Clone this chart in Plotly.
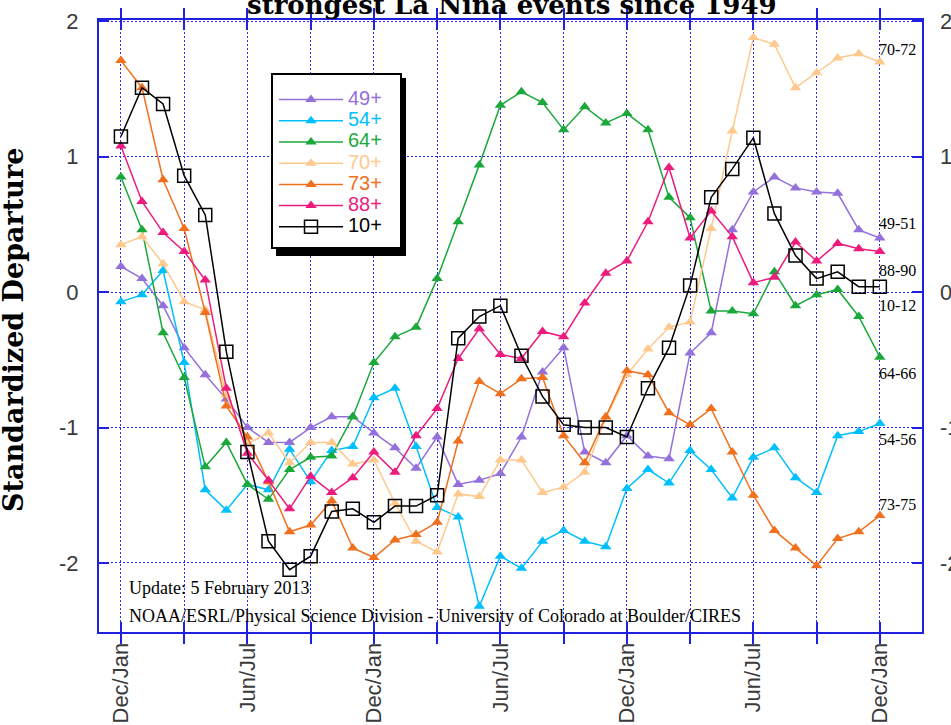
import plotly.graph_objects as go

# ---- data ----
months = list(range(37))
tick_pos = list(range(0, 37, 3))
tick_text = ["Dec/Jan" if (p % 12 == 0) else ("Jun/Jul" if p % 12 == 6 else "") for p in tick_pos]

series_names = ["49+", "54+", "64+", "70+", "73+", "88+", "10+"]
end_labels = ["49-51", "54-56", "64-66", "70-72", "73-75", "88-90", "10-12"]
end_label_y = [0.51, -1.09, -0.60, 1.79, -1.57, 0.16, -0.10]

s49 = [0.19, 0.10, -0.10, -0.41, -0.61, -0.79, -1.00, -1.11, -1.11, -1.00, -0.92, -0.92, -1.04,
       -1.15, -1.30, -1.07, -1.42, -1.39, -1.34, -1.07, -0.59, -0.41, -1.18, -1.26, -1.06, -1.21,
       -1.23, -0.45, -0.30, 0.46, 0.74, 0.85, 0.77, 0.74, 0.73, 0.46, 0.40]
s54 = [-0.07, -0.02, 0.16, -0.52, -1.46, -1.61, -1.42, -1.46, -1.16, -1.40, -1.17, -1.14, -0.78,
       -0.71, -1.14, -1.59, -1.66, -2.32, -1.95, -2.04, -1.84, -1.76, -1.84, -1.88, -1.45, -1.31,
       -1.41, -1.17, -1.31, -1.52, -1.22, -1.15, -1.37, -1.48, -1.06, -1.03, -0.97]
s64 = [0.85, 0.46, -0.30, -0.63, -1.29, -1.11, -1.42, -1.53, -1.31, -1.22, -1.21, -0.92, -0.52,
       -0.33, -0.26, 0.10, 0.52, 0.94, 1.38, 1.48, 1.40, 1.20, 1.37, 1.25, 1.32, 1.20, 0.70,
       0.55, -0.14, -0.14, -0.16, 0.15, -0.10, -0.02, 0.02, -0.18, -0.48]
s70 = [0.35, 0.41, 0.21, -0.07, -0.13, -0.76, -1.12, -1.04, -1.26, -1.11, -1.11, -1.27, -1.24,
       -1.56, -1.84, -1.92, -1.49, -1.51, -1.24, -1.24, -1.48, -1.44, -1.33, -0.93, -0.61, -0.42,
       -0.26, -0.22, 0.47, 1.19, 1.88, 1.83, 1.51, 1.62, 1.73, 1.76, 1.70]
s73 = [1.71, 1.51, 0.83, 0.47, -0.15, -0.84, -1.07, -1.40, -1.77, -1.72, -1.54, -1.89, -1.96,
       -1.83, -1.79, -1.70, -1.10, -0.66, -0.75, -0.64, -0.63, -1.06, -1.26, -0.92, -0.58, -0.61,
       -0.89, -0.98, -0.86, -1.18, -1.50, -1.76, -1.89, -2.02, -1.82, -1.77, -1.65]
s88 = [1.08, 0.67, 0.44, 0.30, 0.09, -0.71, -1.19, -1.39, -1.60, -1.36, -1.48, -1.37, -1.18,
       -1.33, -1.06, -0.86, -0.49, -0.27, -0.46, -0.49, -0.29, -0.33, -0.08, 0.14, 0.23, 0.52,
       0.92, 0.40, 0.60, 0.41, 0.07, 0.11, 0.37, 0.23, 0.36, 0.32, 0.30]
s10 = [1.15, 1.51, 1.39, 0.86, 0.57, -0.44, -1.18, -1.84, -2.05, -1.95, -1.62, -1.60, -1.70,
       -1.58, -1.58, -1.50, -0.34, -0.18, -0.10, -0.47, -0.77, -0.98, -1.00, -1.00, -1.07, -0.71,
       -0.41, 0.05, 0.70, 0.91, 1.14, 0.58, 0.27, 0.10, 0.15, 0.04, 0.04]

y_ticks = [-2, -1, 0, 1, 2]
y_tick_text = ["-2", "-1", "0", "1", "2"]

# ---- styles ----
colors = ["#9370DB", "#00BFFF", "#1BA83B", "#FFC98E", "#F0701E", "#EC1B7D", "#000000"]
all_series = [s49, s54, s64, s70, s73, s88, s10]
AXIS_BLUE = "#2020E0"
GRID_BLUE = "#2828FF"
TICK_GRAY = "#3a3a3a"
SERIF = "Liberation Serif, Times New Roman, serif"
WIDE_SERIF = "DejaVu Serif, serif"
SANS = "Liberation Sans, Arial, sans-serif"

fig = go.Figure()
for name, ys, col in zip(series_names, all_series, colors):
    if name == "10+":
        marker = dict(symbol="square-open", size=13, color=col, line=dict(width=1.5, color=col))
    else:
        marker = dict(symbol="triangle-up", size=10, color=col)
    fig.add_trace(go.Scatter(
        x=months, y=ys, mode="lines+markers",
        name=f"<span style='color:{col};font-size:20px'>{name}</span>",
        line=dict(color=col, width=1.5), marker=marker,
    ))

# invisible trace to carry the right-hand axis labels
fig.add_trace(go.Scatter(x=[months[0]], y=[y_ticks[0]], yaxis="y2", mode="markers",
                         marker=dict(opacity=0), showlegend=False, hoverinfo="skip"))


def px_to_paper_x(px):
    return (px - 99) / 823.0


def px_to_paper_y(py):
    return 1 - (py - 20) / 612.0


fig.update_layout(
    width=951, height=725,
    margin=dict(l=99, r=29, t=20, b=93, autoexpand=False),
    paper_bgcolor="white", plot_bgcolor="white",
    showlegend=True,
    legend=dict(
        x=px_to_paper_x(274), y=px_to_paper_y(84), xanchor="left", yanchor="top",
        bgcolor="rgba(0,0,0,0)", borderwidth=0,
        font=dict(family=SANS, size=14),
        itemwidth=64, tracegroupgap=0,
    ),
    xaxis=dict(
        range=[-1.04, 38], tickmode="array", tickvals=tick_pos, ticktext=tick_text,
        tickangle=-90, tickfont=dict(family=SANS, size=22, color=TICK_GRAY),
        showgrid=True, gridcolor=GRID_BLUE, gridwidth=1, griddash="2px,2px",
        showline=True, linecolor=AXIS_BLUE, linewidth=2, mirror="allticks",
        ticks="inside", ticklen=10, tickwidth=2, tickcolor=AXIS_BLUE,
        zeroline=False, ticklabelstandoff=0, automargin=False,
    ),
    yaxis=dict(
        range=[-2.51, 2.01], tickmode="array", tickvals=y_ticks, ticktext=y_tick_text,
        tickfont=dict(family=SANS, size=22, color=TICK_GRAY),
        showgrid=True, gridcolor=GRID_BLUE, gridwidth=1, griddash="2px,2px",
        showline=True, linecolor=AXIS_BLUE, linewidth=2, mirror="allticks",
        ticks="inside", ticklen=10, tickwidth=2, tickcolor=AXIS_BLUE,
        zeroline=False, ticklabelstandoff=14, automargin=False,
    ),
    yaxis2=dict(
        range=[-2.51, 2.01], tickmode="array", tickvals=y_ticks, ticktext=y_tick_text,
        overlaying="y", side="right",
        tickfont=dict(family=SANS, size=22, color=TICK_GRAY),
        showgrid=False, showline=False, ticks="", zeroline=False, ticklabelstandoff=17,
        automargin=False,
    ),
)

# legend frame with drop shadow
fig.add_shape(type="rect", xref="paper", yref="paper",
              x0=px_to_paper_x(276), x1=px_to_paper_x(406),
              y0=px_to_paper_y(256), y1=px_to_paper_y(78),
              fillcolor="black", line=dict(width=0), layer="above")
fig.add_shape(type="rect", xref="paper", yref="paper",
              x0=px_to_paper_x(272), x1=px_to_paper_x(401),
              y0=px_to_paper_y(248), y1=px_to_paper_y(74),
              fillcolor="white", line=dict(width=2, color="black"), layer="above")

# title (top line cut off in the reference)
fig.add_annotation(text="<b>strongest La Niña events since 1949</b>", xref="paper", yref="paper",
                   x=px_to_paper_x(512), y=px_to_paper_y(5), xanchor="center", yanchor="middle",
                   showarrow=False, font=dict(family=WIDE_SERIF, size=26, color="black"))

# y axis title
fig.add_annotation(text="<b>Standardized Departure</b>", xref="paper", yref="paper",
                   x=px_to_paper_x(13), y=px_to_paper_y(330), xanchor="center", yanchor="middle",
                   textangle=-90, showarrow=False,
                   font=dict(family=WIDE_SERIF, size=27, color="black"))

# notes
fig.add_annotation(text="Update: 5 February 2013", xref="paper", yref="paper",
                   x=px_to_paper_x(127), y=px_to_paper_y(588), xanchor="left", yanchor="middle",
                   showarrow=False, font=dict(family=SERIF, size=18, color="black"))
fig.add_annotation(text="NOAA/ESRL/Physical Science Division - University of Colorado at Boulder/CIRES",
                   xref="paper", yref="paper",
                   x=px_to_paper_x(127), y=px_to_paper_y(616), xanchor="left", yanchor="middle",
                   showarrow=False, font=dict(family=SERIF, size=18, color="black"))

# end-of-series labels
for lab, ly in zip(end_labels, end_label_y):
    fig.add_annotation(text=lab, x=months[-1], y=ly, xref="x", yref="y",
                       xanchor="left", yanchor="middle", xshift=-3, showarrow=False,
                       font=dict(family=SERIF, size=16, color="black"))

fig.write_html("out.html", config={"displayModeBar": False},
               post_script="document.body.style.margin='0px';document.body.style.overflow='hidden';")
